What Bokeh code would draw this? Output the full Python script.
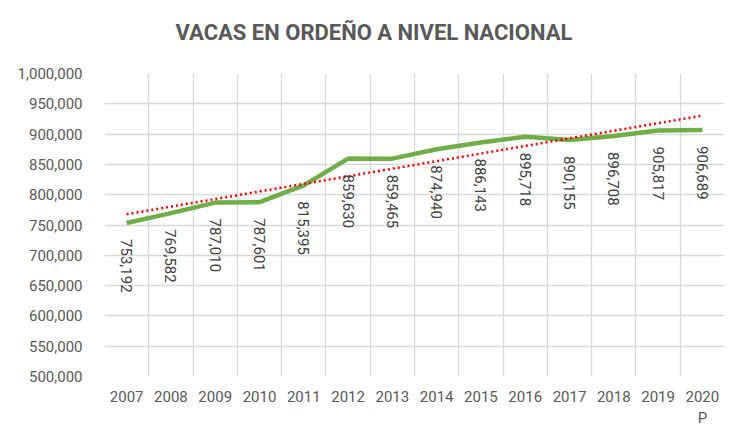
import math
from bokeh.plotting import figure
from bokeh.models import (FixedTicker, NumeralTickFormatter, Range1d, ColumnDataSource,
                          LinearAxis, Title)
from bokeh.core.properties import value
from bokeh.embed import file_html
from bokeh.resources import INLINE

# ---- data ----
years = ["2007", "2008", "2009", "2010", "2011", "2012", "2013", "2014",
         "2015", "2016", "2017", "2018", "2019", "2020\nP"]
vacas = [753192, 769582, 787010, 787601, 815395, 859630, 859465, 874940,
         886143, 895718, 890155, 896708, 905817, 906689]
y_ticks = [500000, 550000, 600000, 650000, 700000, 750000, 800000, 850000,
           900000, 950000, 1000000]
title_text = "VACAS EN ORDEÑO A NIVEL NACIONAL"

xs = list(range(1, len(years) + 1))
line1 = {x: lab.split("\n")[0] for x, lab in zip(xs, years)}
line2 = {x: lab.split("\n")[1] for x, lab in zip(xs, years) if "\n" in lab}

# linear trend line (least squares on the series)
n = len(xs)
mx = sum(xs) / n
my = sum(vacas) / n
slope = sum((a - mx) * (b - my) for a, b in zip(xs, vacas)) / sum((a - mx) ** 2 for a in xs)
icpt = my - slope * mx
trend = [icpt + slope * a for a in xs]

FONT = "Roboto"
GREY = "#595959"

p = figure(width=732, height=429, output_backend="svg", toolbar_location=None,
           x_range=Range1d(0.5, len(years) + 0.5), y_range=Range1d(500000, 1000000),
           min_border_left=104, min_border_right=8, min_border_top=73, min_border_bottom=50)
p.outline_line_color = None
p.background_fill_color = "white"
p.border_fill_color = "white"

# spacer between the title and the plot frame
p.add_layout(Title(text=" ", text_font_size="1px", standoff=6), "above")
p.add_layout(Title(text=title_text, align="left", offset=71, vertical_align="top",
                   text_font=FONT, text_font_style="bold", text_font_size="22px",
                   text_color=GREY, standoff=36), "above")


def style_axis(ax):
    ax.axis_line_color = None
    ax.major_tick_line_color = None
    ax.minor_tick_line_color = None
    ax.major_tick_out = 0
    ax.major_tick_in = 0
    ax.major_label_text_font = FONT
    ax.major_label_text_font_size = "15px"
    ax.major_label_text_color = GREY


# axes
p.xaxis.ticker = FixedTicker(ticks=xs)
p.xaxis.major_label_overrides = line1
p.yaxis.ticker = FixedTicker(ticks=y_ticks)
p.yaxis.formatter = NumeralTickFormatter(format="0,0")
style_axis(p.xaxis[0])
style_axis(p.yaxis[0])
p.yaxis.major_label_standoff = 22
p.xaxis.major_label_standoff = 14

ax2 = LinearAxis(ticker=FixedTicker(ticks=list(line2.keys())),
                 major_label_overrides=line2)
style_axis(ax2)
ax2.major_label_standoff = 4
p.add_layout(ax2, "below")

# grids
p.xgrid.ticker = FixedTicker(ticks=[x - 0.5 for x in xs] + [xs[-1] + 0.5])
p.xgrid.grid_line_color = "#d9d9d9"
p.ygrid.grid_line_color = "#d9d9d9"
p.xgrid.grid_line_width = 1.3
p.ygrid.grid_line_width = 1.3

src = ColumnDataSource(dict(x=xs, y=vacas, trend=trend,
                            lab=[f"{v:,}" for v in vacas]))

p.line("x", "y", source=src, line_color="#70AD47", line_width=4.5, line_join="round")
p.line("x", "trend", source=src, line_color="#FF0000", line_width=2.5, line_dash="2 3")

p.text("x", "y", text="lab", source=src, angle=-math.pi / 2,
       text_align="left", text_baseline="middle", y_offset=16,
       text_font=value(FONT), text_font_size="15px", text_color="#404040")

open("out.html", "w").write(file_html(p, INLINE))
